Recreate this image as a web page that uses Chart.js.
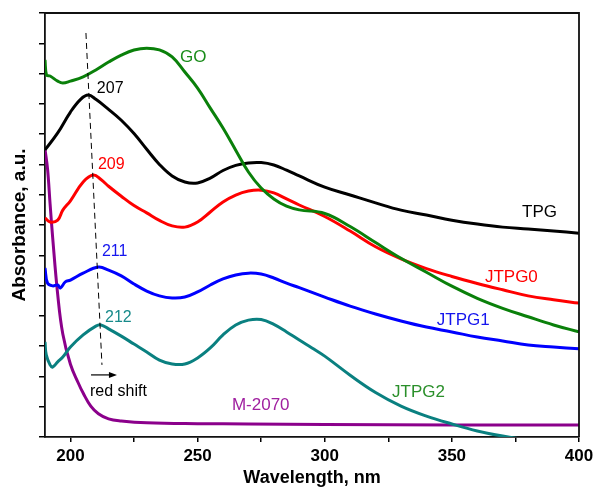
<!DOCTYPE html>
<html>
<head>
<meta charset="utf-8">
<script src="https://cdn.jsdelivr.net/npm/chart.js@4.4.1/dist/chart.umd.min.js"></script>
<style>
  html, body { margin: 0; padding: 0; background: #fff; }
  #wrap { width: 593px; height: 488px; }
</style>
</head>
<body>
<div id="wrap"><canvas id="uv"></canvas></div>
<script>
// x axis
const xTicks = [200, 225, 250, 275, 300, 325, 350, 375, 400];
const xTickLabels = ['200', '', '250', '', '300', '', '350', '', '400'];

// spectra (wavelength nm / absorbance, stacked, arbitrary units)
const goWl = [190, 190.6, 192, 195, 197, 200, 205, 210, 215, 220, 225, 230, 235, 240, 245, 250, 255, 260, 265, 270, 275, 280, 285, 290, 300, 310, 320, 330, 340, 350, 360, 370, 380, 390, 400];
const goAbs = [12.45, 11.95, 11.92, 11.75, 11.69, 11.75, 11.89, 12.12, 12.38, 12.61, 12.78, 12.84, 12.78, 12.55, 12.05, 11.52, 10.86, 10.2, 9.47, 8.75, 8.22, 7.86, 7.62, 7.5, 7.38, 6.95, 6.42, 5.9, 5.44, 4.98, 4.58, 4.25, 3.97, 3.7, 3.47];

const tpgWl = [190, 195, 200, 204, 207, 210, 215, 220, 225, 230, 235, 240, 245, 250, 255, 260, 265, 270, 275, 280, 285, 290, 300, 310, 320, 330, 340, 350, 360, 370, 380, 390, 400];
const tpgAbs = [9.48, 10.04, 10.73, 11.15, 11.29, 11.15, 10.82, 10.46, 10.02, 9.5, 9.0, 8.62, 8.42, 8.39, 8.55, 8.8, 8.97, 9.05, 9.06, 8.98, 8.81, 8.62, 8.25, 7.99, 7.73, 7.49, 7.33, 7.16, 7.03, 6.93, 6.87, 6.8, 6.73];

const jtpg0Wl = [190, 192, 195, 197, 200, 205, 209, 212, 215, 220, 225, 230, 235, 240, 245, 250, 255, 260, 265, 270, 275, 280, 285, 290, 300, 310, 320, 330, 340, 350, 360, 370, 380, 390, 400];
const jtpg0Abs = [7.23, 7.1, 7.16, 7.49, 7.8, 8.42, 8.65, 8.5, 8.28, 7.95, 7.64, 7.4, 7.15, 6.97, 6.93, 7.1, 7.43, 7.76, 7.99, 8.12, 8.15, 8.06, 7.86, 7.66, 7.28, 6.8, 6.28, 5.88, 5.56, 5.3, 5.07, 4.86, 4.66, 4.53, 4.42];

const jtpg1Wl = [190, 191, 193, 195, 196, 198, 200, 205, 211, 215, 220, 225, 230, 235, 240, 245, 250, 255, 260, 265, 270, 275, 280, 285, 290, 300, 310, 320, 330, 340, 350, 360, 370, 380, 390, 400];
const jtpg1Abs = [5.58, 5.08, 4.99, 5.02, 4.92, 5.12, 5.18, 5.41, 5.61, 5.51, 5.32, 5.05, 4.82, 4.66, 4.59, 4.62, 4.79, 5.02, 5.22, 5.35, 5.41, 5.38, 5.25, 5.08, 4.93, 4.62, 4.32, 4.06, 3.83, 3.63, 3.47, 3.3, 3.17, 3.04, 2.97, 2.91];

const jtpg2Wl = [190, 190.5, 192, 193, 195, 197, 200, 205, 210, 212, 215, 220, 225, 230, 235, 240, 245, 250, 255, 260, 265, 270, 275, 280, 285, 290, 295, 300, 310, 320, 330, 340, 350, 360, 370, 380];
const jtpg2Abs = [3.14, 2.71, 2.38, 2.31, 2.48, 2.64, 2.97, 3.37, 3.66, 3.7, 3.57, 3.33, 3.07, 2.81, 2.54, 2.41, 2.41, 2.61, 2.94, 3.37, 3.7, 3.86, 3.88, 3.72, 3.47, 3.2, 2.94, 2.67, 2.04, 1.47, 1.02, 0.69, 0.43, 0.2, 0.03, -0.1];

const m2070Wl = [190, 191, 192, 193, 195, 197, 200, 203, 205, 208, 211, 215, 220, 230, 250, 270, 300, 350, 400];
const m2070Abs = [9.5, 8.85, 7.7, 6.6, 4.7, 3.4, 2.4, 1.8, 1.45, 1.02, 0.77, 0.6, 0.53, 0.47, 0.44, 0.43, 0.41, 0.4, 0.4];

// guide line through the first peaks
const shiftWl = [206.1, 212.4];
const shiftAbs = [13.34, 2.38];

// text notes placed in data units
const notes = [
  { text: 'GO', x: 243.1, y: 12.55, color: '#1a8c1a', size: 17 },
  { text: '207', x: 210.4, y: 11.52, color: '#000000', size: 16 },
  { text: '209', x: 210.8, y: 9.01, color: '#ff0000', size: 16 },
  { text: '211', x: 212.4, y: 6.11, color: '#1515ee', size: 16 },
  { text: '212', x: 213.6, y: 3.93, color: '#178a8a', size: 16 },
  { text: 'TPG', x: 377.6, y: 7.43, color: '#000000', size: 17 },
  { text: 'JTPG0', x: 363, y: 5.28, color: '#ff0000', size: 17 },
  { text: 'JTPG1', x: 344.1, y: 3.86, color: '#1515ee', size: 17 },
  { text: 'JTPG2', x: 326.5, y: 1.49, color: '#2a8f2a', size: 17 },
  { text: 'M-2070', x: 263.5, y: 1.06, color: '#a020a0', size: 17 },
  { text: 'red shift', x: 207.7, y: 1.49, color: '#000000', size: 16 }
];
const arrowWl = [208.1, 218.3];
const arrowAbs = 2.05;

const FONT = '"Liberation Sans", Arial, sans-serif';

const pts = (xs, ys) => xs.map((x, i) => ({ x: x, y: ys[i] }));
const curve = (label, xs, ys, color) => ({
  label: label,
  data: pts(xs, ys),
  borderColor: color,
  borderWidth: 3,
  pointRadius: 0,
  tension: 0.4,
  fill: false
});

// frame on top / right + text + arrow
const decor = {
  id: 'decor',
  afterDraw(chart) {
    const { ctx, chartArea: a, scales } = chart;
    ctx.save();
    ctx.strokeStyle = '#111';
    ctx.lineWidth = 1.8;
    ctx.beginPath();
    ctx.moveTo(a.left, a.top);
    ctx.lineTo(a.right, a.top);
    ctx.lineTo(a.right, a.bottom);
    ctx.stroke();

    ctx.textBaseline = 'middle';
    ctx.textAlign = 'left';
    notes.forEach(n => {
      ctx.font = n.size + 'px ' + FONT;
      ctx.fillStyle = n.color;
      ctx.fillText(n.text, scales.x.getPixelForValue(n.x), scales.y.getPixelForValue(n.y));
    });

    const x0 = scales.x.getPixelForValue(arrowWl[0]);
    const x1 = scales.x.getPixelForValue(arrowWl[1]);
    const yy = scales.y.getPixelForValue(arrowAbs);
    ctx.strokeStyle = '#000';
    ctx.fillStyle = '#000';
    ctx.lineWidth = 1.2;
    ctx.beginPath();
    ctx.moveTo(x0, yy);
    ctx.lineTo(x1 - 6, yy);
    ctx.stroke();
    ctx.beginPath();
    ctx.moveTo(x1, yy);
    ctx.lineTo(x1 - 8, yy - 3);
    ctx.lineTo(x1 - 8, yy + 3);
    ctx.closePath();
    ctx.fill();
    ctx.restore();
  }
};

const ctx = document.getElementById('uv').getContext('2d');
new Chart(ctx, {
  type: 'line',
  data: {
    datasets: [
      {
        label: 'shift',
        data: pts(shiftWl, shiftAbs),
        borderColor: '#000',
        borderWidth: 1,
        borderDash: [6, 4],
        pointRadius: 0,
        fill: false
      },
      curve('GO', goWl, goAbs, '#0a800a'),
      curve('TPG', tpgWl, tpgAbs, '#000000'),
      curve('JTPG0', jtpg0Wl, jtpg0Abs, '#ff0000'),
      curve('JTPG1', jtpg1Wl, jtpg1Abs, '#0000ff'),
      curve('JTPG2', jtpg2Wl, jtpg2Abs, '#0a8080'),
      curve('M-2070', m2070Wl, m2070Abs, '#8b008b')
    ]
  },
  options: {
    responsive: true,
    maintainAspectRatio: false,
    animation: false,
    layout: { padding: { top: 13, right: 14, left: 0, bottom: 0 } },
    plugins: {
      legend: { display: false },
      tooltip: { enabled: false }
    },
    scales: {
      x: {
        type: 'linear',
        min: 190,
        max: 400,
        afterBuildTicks: s => { s.ticks = xTicks.map(v => ({ value: v })); },
        afterFit: s => { s.height = 51; s.paddingLeft = 0; s.paddingRight = 0; },
        ticks: {
          autoSkip: false,
          maxRotation: 0,
          padding: 4,
          color: '#000',
          font: { family: FONT, size: 17, weight: 'bold' },
          callback: v => xTickLabels[xTicks.indexOf(v)]
        },
        grid: { drawOnChartArea: false, tickLength: 5, color: '#000', lineWidth: 1.5 },
        border: { color: '#111', width: 1.8 },
        title: {
          display: true,
          text: 'Wavelength, nm',
          color: '#000',
          padding: { top: 0, bottom: -1 },
          font: { family: FONT, size: 18, weight: 'bold' }
        }
      },
      y: {
        min: 0,
        max: 14,
        afterFit: s => { s.width = 45; s.paddingTop = 0; s.paddingBottom = 0; },
        ticks: { stepSize: 1, callback: () => '' },
        grid: { drawOnChartArea: false, tickLength: 6, color: '#000', lineWidth: 1.5 },
        border: { color: '#111', width: 1.8 },
        title: {
          display: true,
          text: 'Absorbance, a.u.',
          color: '#000',
          padding: { top: 8, bottom: 0 },
          font: { family: FONT, size: 19, weight: 'bold' }
        }
      }
    }
  },
  plugins: [decor]
});
</script>
</body>
</html>
